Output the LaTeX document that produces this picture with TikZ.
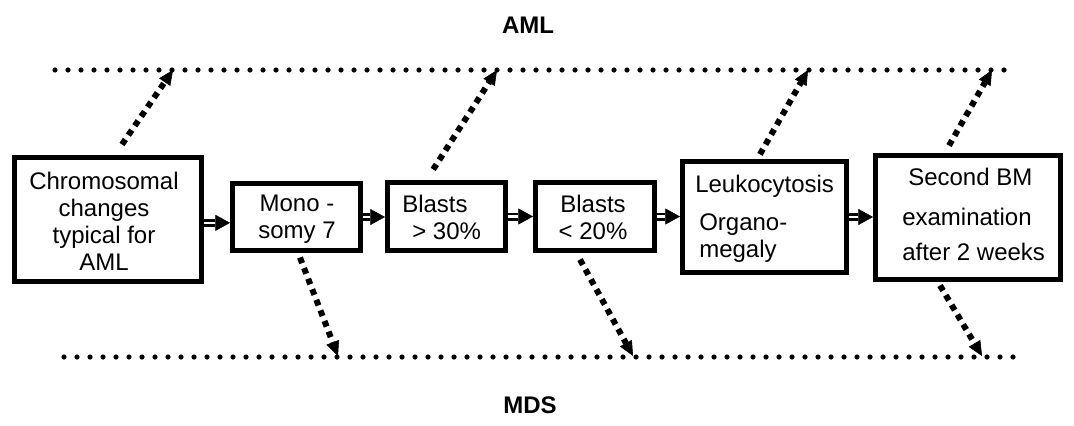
\documentclass[tikz,border=0pt]{standalone}
\usepackage{fontspec}
\setmainfont{Liberation Sans}
\usetikzlibrary{arrows.meta}
\begin{document}
\begin{tikzpicture}[x=0.75pt,y=-0.75pt,
  box/.style={draw, line width=3.75pt, inner sep=0pt},
  txt/.style={inner sep=0pt, font=\fontsize{18pt}{20.25pt}\selectfont},
  title/.style={inner sep=0pt, font=\fontsize{18pt}{20.25pt}\selectfont\bfseries},
  axis/.style={line width=3.9pt, line cap=round, dash pattern=on 0pt off 9.75pt},
  hint/.style={line width=4.5pt, dash pattern=on 4.5pt off 4pt, -{Triangle[length=11pt,width=10pt,line width=0.4pt]}},
  flow/.style={line width=2.2pt, double=white, double distance=1.6pt, -{Triangle[length=11pt,width=12pt,line width=0.4pt]}}
]
\useasboundingbox (0,0) rectangle (1074,425);

% titles
\node[title] (aml) at (528,25) {AML};
\node[title] (mds) at (530,405) {MDS};

% dotted lines
\coordinate (tl) at (55,70);
\coordinate (tr) at (1015,70);
\coordinate (bl) at (64,357);
\coordinate (br) at (1023,357);
\draw[axis] (tl) -- (tr);
\draw[axis] (bl) -- (br);

% boxes
\node[box, minimum width=140.25pt, minimum height=93pt] (b1) at (108,219.5) {};
\node[box, minimum width=96pt, minimum height=50.25pt] (b2) at (296.5,217) {};
\node[box, minimum width=88.5pt, minimum height=51pt] (b3) at (446.5,216.5) {};
\node[box, minimum width=89.25pt, minimum height=51pt] (b4) at (595,216.5) {};
\node[box, minimum width=123pt, minimum height=83.25pt] (b5) at (764.5,217) {};
\node[box, minimum width=138.75pt, minimum height=93pt] (b6) at (968,217.5) {};

% texts
\node[txt, anchor=north, align=center] (t1) at (104,172) {Chromosomal\\changes\\typical for\\AML};
\node[txt, anchor=north, align=center] (t2) at (297,195) {Mono -\\somy 7};
\node[txt, anchor=north west, align=left] (t3) at (402,195) {Blasts\\\hspace*{7.5pt}> 30\%};
\node[txt, anchor=north, align=center] (t4) at (593,195) {Blasts\\< 20\%};
\node[txt, anchor=north west, align=left] (t5) at (695,175) {Leukocytosis\\[8pt]\hspace*{3pt}Organo-\\\hspace*{3pt}megaly};
\node[txt, anchor=north west, align=left] (t6) at (902,168) {\hspace*{4.5pt}Second BM\\[9.75pt]examination\\[6pt]after 2 weeks};

% flow arrows
\draw[flow] ([yshift=-2.5pt]b1.east) -- ([yshift=-2.5pt]b1.east -| b2.west);
\draw[flow] (b2.east) -- (b2.east -| b3.west);
\draw[flow] (b3.east) -- (b3.east -| b4.west);
\draw[flow] (b4.east) -- (b4.east -| b5.west);
\draw[flow] (b5.east) -- (b5.east -| b6.west);

% targets on the lines
\coordinate (u1) at (173,70);
\coordinate (u2) at (497,70);
\coordinate (u3) at (808,70);
\coordinate (u4) at (992,70);
\coordinate (d1) at (338,356);
\coordinate (d2) at (633,356);
\coordinate (d3) at (982,356);

\draw[hint] ([xshift=10.5pt,yshift=7.9pt]b1.north) -- (u1);
\draw[hint] ([xshift=-10pt,yshift=7.9pt]b3.north) -- (u2);
\draw[hint] ([xshift=-3.4pt,yshift=3.5pt]b5.north) -- (u3);
\draw[hint] ([xshift=-14.25pt,yshift=5.6pt]b6.north) -- (u4);
\draw[hint] ([xshift=2.6pt,yshift=-3.4pt]b2.south) -- (d1);
\draw[hint] ([xshift=-11.25pt,yshift=-4.9pt]b4.south) -- (d2);
\draw[hint] ([xshift=-21pt,yshift=-2.6pt]b6.south) -- (d3);
\end{tikzpicture}
\end{document}
